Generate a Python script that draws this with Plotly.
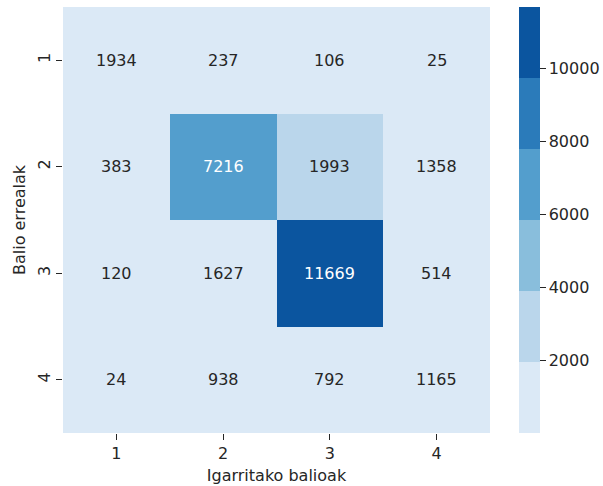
import plotly.graph_objects as go

# Confusion matrix: rows = real values, columns = predicted values
labels = ["1", "2", "3", "4"]
counts = [
    [1934, 237, 106, 25],
    [383, 7216, 1993, 1358],
    [120, 1627, 11669, 514],
    [24, 938, 792, 1165],
]
cbar_ticks = [2000, 4000, 6000, 8000, 10000]
cbar_ticktext = ["2000", "4000", "6000", "8000", "10000"]

# Six-step "Blues" palette, drawn as discrete bands
palette = ["#dbe9f6", "#bad6eb", "#89bedc", "#539ecd", "#2b7bba", "#0b559f"]
n = len(palette)
colorscale = []
for i, c in enumerate(palette):
    colorscale.append([i / n, c])
    colorscale.append([(i + 1) / n, c])

flat = [v for row in counts for v in row]
zmin, zmax = min(flat), max(flat)

FONT = "DejaVu Sans"
FS = 16
INK = "#262626"

fig = go.Figure(
    go.Heatmap(
        z=counts,
        x=labels,
        y=labels,
        zmin=zmin,
        zmax=zmax,
        colorscale=colorscale,
        xgap=0,
        ygap=0,
        hoverinfo="skip",
        colorbar=dict(
            thickness=21,
            len=1,
            lenmode="fraction",
            x=(519 - 63) / 427,
            xanchor="left",
            xpad=0,
            y=0.5,
            yanchor="middle",
            ypad=0,
            outlinewidth=0,
            tickvals=cbar_ticks,
            ticktext=cbar_ticktext,
            ticks="outside",
            ticklen=6,
            tickwidth=1,
            tickcolor=INK,
            tickfont=dict(family=FONT, size=FS, color=INK),
        ),
    )
)

# Cell value labels; white text on the dark cells
def band_index(v):
    return min(int((v - zmin) / (zmax - zmin) * n), n - 1)

for r, row in enumerate(counts):
    for c, v in enumerate(row):
        fig.add_annotation(
            x=c,
            y=r,
            text=str(v),
            showarrow=False,
            font=dict(family=FONT, size=FS,
                      color="white" if band_index(v) >= 3 else INK),
        )

fig.update_layout(
    width=603,
    height=486,
    margin=dict(l=63, r=113, t=7, b=53, autoexpand=False),
    paper_bgcolor="white",
    plot_bgcolor="white",
    font=dict(family=FONT, size=FS, color=INK),
    xaxis=dict(
        type="category",
        title=dict(text="Igarritako balioak", standoff=7,
                   font=dict(family=FONT, size=FS, color=INK)),
        ticks="outside",
        ticklen=6,
        tickcolor=INK,
        tickfont=dict(family=FONT, size=FS, color=INK),
        showgrid=False,
        zeroline=False,
        showline=False,
    ),
    yaxis=dict(
        type="category",
        title=dict(text="Balio errealak", standoff=4,
                   font=dict(family=FONT, size=FS, color=INK)),
        autorange="reversed",
        ticks="outside",
        ticklen=6,
        tickcolor=INK,
        tickangle=-90,
        tickfont=dict(family=FONT, size=FS, color=INK),
        showgrid=False,
        zeroline=False,
        showline=False,
    ),
)

fig.write_html("out.html")
